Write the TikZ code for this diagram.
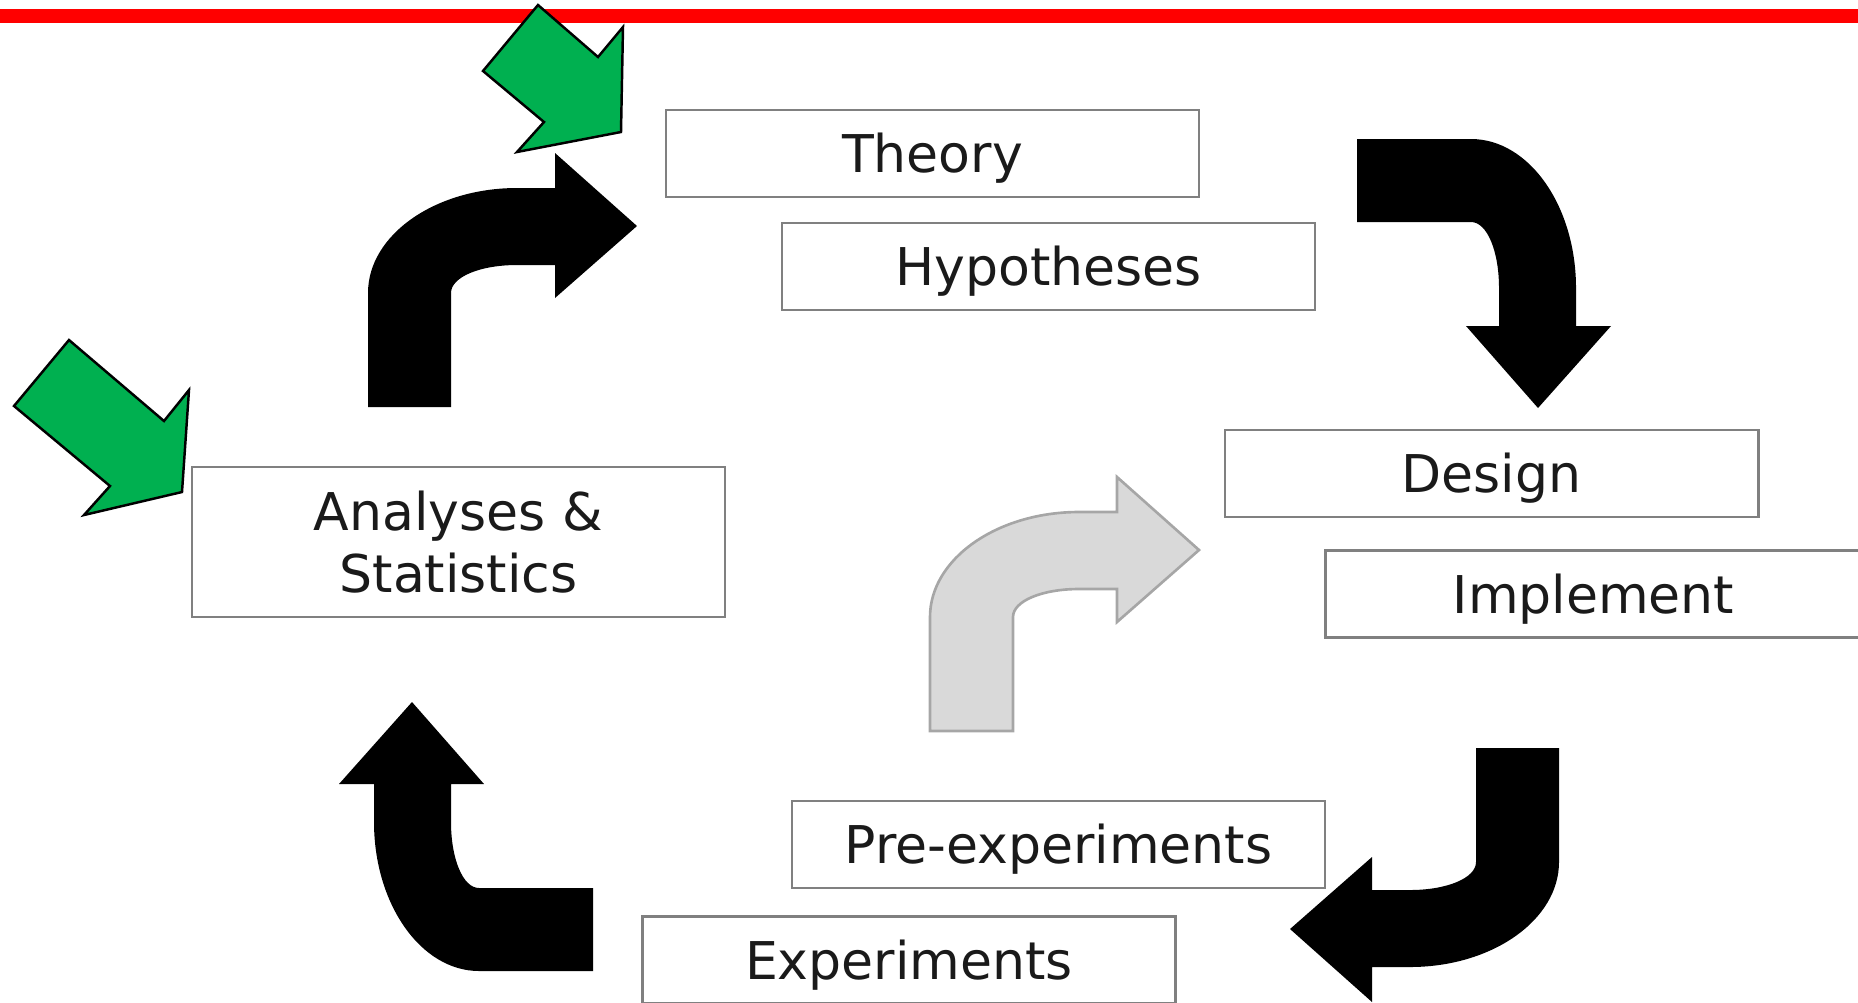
\documentclass[tikz,border=0pt]{standalone}
\usepackage{fontspec}
\setmainfont{DejaVu Sans}

\definecolor{boxgrey}{HTML}{808080}
\definecolor{textdark}{HTML}{1A1A1A}
\definecolor{markgreen}{HTML}{00B050}
\definecolor{ghostfill}{HTML}{D9D9D9}
\definecolor{ghostline}{HTML}{A6A6A6}

\tikzset{
  stagebox/.style={draw=boxgrey, line width=0.75pt, fill=white, inner sep=0pt,
    minimum width=5.33cm, minimum height=0.87cm, text=textdark,
    text height=11pt, text depth=0pt,
    font=\fontsize{14.8}{17.4}\selectfont},
  % bent block arrow, tail at the origin going up, head to the right
  turnarrow/.pic={
    \path[pic actions] (0,0) -- (0,-114)
      .. controls (0,-172) and (67,-219) .. (149,-219) -- (187,-219)
      -- (187,-254) -- (269,-181) -- (187,-109) -- (187,-142) -- (149,-142)
      .. controls (112,-142) and (83,-130) .. (83,-114) -- (83,0) -- cycle;
  },
  pointer/.style={fill=markgreen, draw=black, line width=0.7pt, line join=miter}
}

\begin{document}
\begin{tikzpicture}[x=0.01cm, y=-0.01cm]
\useasboundingbox (0,0) rectangle (1858,1002);

% red rule
\fill[red] (0,9) rectangle (1858,23);

% boxes
\node[stagebox] (theory) at (932.5,153.5) {Theory};
\node[stagebox] (hypo) at (1048.5,266.5) {Hypotheses};
\node[stagebox] (design) at (1491.5,473.5) {Design};
\node[stagebox, minimum width=5.36cm] (impl) at (1593.5,594) {Implement};
\node[stagebox] (preexp) at (1058.5,844.5) {Pre-experiments};
\node[stagebox] (exp) at (909,960) {Experiments};
\node[stagebox, text height=, text depth=, minimum height=1.5cm, align=center] (stats) at (458.5,542) {Analyses \&\\Statistics};

% cycle arrows
\pic[fill=black] at (368,407) {turnarrow};
\pic[fill=black, rotate=-90] at (1357,139) {turnarrow};
\pic[fill=black, rotate=180] at (1559,748) {turnarrow};
\pic[fill=black, rotate=90] at (593,971) {turnarrow};
\pic[fill=ghostfill, draw=ghostline, line width=0.75pt] at (930,731) {turnarrow};

% green pointers
\filldraw[pointer] (538,5) -- (598,57) -- (623,27) -- (621,132) -- (517,152) -- (544,122) -- (483,71) -- cycle;
\filldraw[pointer] (69,340) -- (164,421) -- (189,390) -- (182,492) -- (84,515) -- (110,486) -- (14,406) -- cycle;

\end{tikzpicture}
\end{document}
